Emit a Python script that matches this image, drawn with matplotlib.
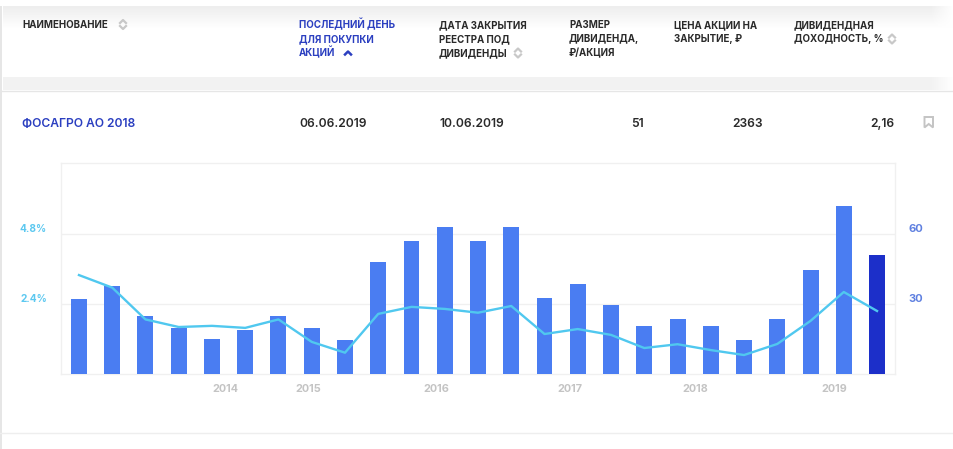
import numpy as np
import matplotlib
matplotlib.use("Agg")
import matplotlib.pyplot as plt
from matplotlib.patches import Rectangle
from matplotlib.transforms import ScaledTranslation

plt.rcParams['font.family'] = ['Inter', 'Noto Sans', 'DejaVu Sans']

# Data
dividends = [32, 37.7, 24.9, 19.7, 15, 18.9, 24.9, 19.7, 14.6, 48, 57, 63, 57,
             63, 32.6, 38.6, 29.6, 20.6, 23.6, 20.6, 14.6, 23.6, 44.6, 72, 51]
yields = [3.39, 2.96, 1.87, 1.61, 1.65, 1.58, 1.87, 1.10, 0.73, 2.06, 2.30, 2.23, 2.10,
          2.33, 1.37, 1.54, 1.34, 0.89, 1.02, 0.82, 0.65, 1.03, 1.82, 2.81, 2.16]
year_labels = ['2014', '2015', '2016', '2017', '2018', '2019']
year_pos = [4.39, 6.89, 10.74, 14.77, 18.53, 22.7]
pct_ticks = [2.4, 4.8]
pct_labels = ['2.4%', '4.8%']
div_ticks = [30, 60]
div_labels = ['30', '60']

W, H = 954, 449
BLUE = '#4a7df2'
DARK = '#1c2fc9'
LINE = '#50c8ef'
LINK = '#2b3fc0'
INK = '#2a2a2a'

fig = plt.figure(figsize=(W / 100, H / 100), dpi=100)

# Page layer in pixel coordinates
page = fig.add_axes([0, 0, 1, 1])
page.axis('off')

# shadows above and below the header
top_shadow = np.linspace(0.93, 1, 24).reshape(-1, 1)
page.imshow(top_shadow, extent=[3, W, 30, 6], cmap='gray', vmin=0, vmax=1, aspect='auto')
page.add_patch(Rectangle((3, 77), W, 13, color='#f2f2f2', lw=0))
# both bands fade out at the right edge
fade = np.ones((1, 24, 4))
fade[0, :, 3] = np.linspace(0, 1, 24)
page.imshow(fade, extent=[930, W, 90, 6], aspect='auto', zorder=2)
page.set_xlim(0, W)
page.set_ylim(H, 0)
page.add_patch(Rectangle((0, 6), 2, H, color='#e6e6e6', lw=0))
page.plot([0, W], [90.5, 90.5], color='#e6e6e6', lw=1)
page.plot([0, W], [433, 433], color='#eeeeee', lw=1)

headers = [
    (22, ['НАИМЕНОВАНИЕ'], INK),
    (299, ['ПОСЛЕДНИЙ ДЕНЬ', 'ДЛЯ ПОКУПКИ', 'АКЦИЙ'], LINK),
    (439, ['ДАТА ЗАКРЫТИЯ', 'РЕЕСТРА ПОД', 'ДИВИДЕНДЫ'], INK),
    (569, ['РАЗМЕР', 'ДИВИДЕНДА,', '₽/АКЦИЯ'], INK),
    (674, ['ЦЕНА АКЦИИ НА', 'ЗАКРЫТИЕ, ₽'], INK),
    (794, ['ДИВИДЕНДНАЯ', 'ДОХОДНОСТЬ, %'], INK),
]
for x, lines, col in headers:
    for i, txt in enumerate(lines):
        page.text(x, 28 + i * 14.2, txt, fontsize=7.0, fontweight='bold',
                  color=col, va='baseline', ha='left', zorder=3)

# sort arrows
for x, y in [(123, 24.5), (518, 53), (892, 39)]:
    page.plot([x - 3, x, x + 3], [y - 1.5, y - 4.5, y - 1.5], color='#c8c8c8', lw=1.6, zorder=3)
    page.plot([x - 3, x, x + 3], [y + 1.5, y + 4.5, y + 1.5], color='#c8c8c8', lw=1.6, zorder=3)
page.plot([345, 348, 351], [54.5, 51.5, 54.5], color=LINK, lw=1.8, zorder=3)

# row
row = [(22, 'ФОСАГРО АО 2018', LINK, 'left'), (299, '06.06.2019', INK, 'left'),
       (439, '10.06.2019', INK, 'left'), (644, '51', INK, 'right'),
       (763, '2363', INK, 'right'), (894, '2,16', INK, 'right')]
for x, txt, col, ha in row:
    page.text(x, 127, txt, fontsize=8.7, fontweight='semibold', color=col, va='baseline', ha=ha)
page.fill([924.5, 933, 933, 928.75, 924.5], [117, 117, 127.5, 124, 127.5],
          facecolor='white', edgecolor='#c4c4c4', lw=1.4)

# Chart
left, right, top, bottom = 61, 895, 163, 374
ax = fig.add_axes([left / W, 1 - bottom / H, (right - left) / W, (bottom - top) / H])
ax.patch.set_alpha(0)
x = np.arange(len(dividends))
colors = [BLUE] * (len(dividends) - 1) + [DARK]
ax.bar(x, dividends, width=0.48, color=colors, zorder=3)
ax.set_xlim(-0.54, 24.54)
ax.set_ylim(0, 90.4)
ax.set_xticks(year_pos)
ax.set_xticklabels(year_labels, fontsize=7.8, fontweight='bold', color='#c4c4c4')
ax.set_yticks(div_ticks)
ax.tick_params(axis='x', length=0, pad=7)
ax.grid(axis='y', color='#f0f0f0', lw=1, zorder=0)
for s in ax.spines.values():
    s.set_color('#f0f0f0')
    s.set_linewidth(1)

ax2 = ax.twinx()
ax2.plot(x, yields, color=LINE, lw=1.7, zorder=4)
ax2.set_ylim(0, 7.23)
ax2.set_yticks(pct_ticks)
ax2.yaxis.tick_left()
for s in ax2.spines.values():
    s.set_visible(False)

# twinx moves the first axis ticks, so right side is set after it
ax.yaxis.tick_right()
ax.set_yticks(div_ticks)
ax.set_yticklabels(div_labels, fontsize=8, fontweight='bold', color='#5f80e0')
ax.tick_params(axis='y', length=0, pad=10)
ax2.set_yticklabels(pct_labels, fontsize=7.3, fontweight='bold', color='#5cc8f0')
ax2.tick_params(axis='y', length=0, pad=10)

# labels sit above their grid lines
lift = ScaledTranslation(0, 6 / 100, fig.dpi_scale_trans)
for lab in ax.get_yticklabels() + ax2.get_yticklabels():
    lab.set_transform(lab.get_transform() + lift)

fig.savefig('out.png', dpi=100)
